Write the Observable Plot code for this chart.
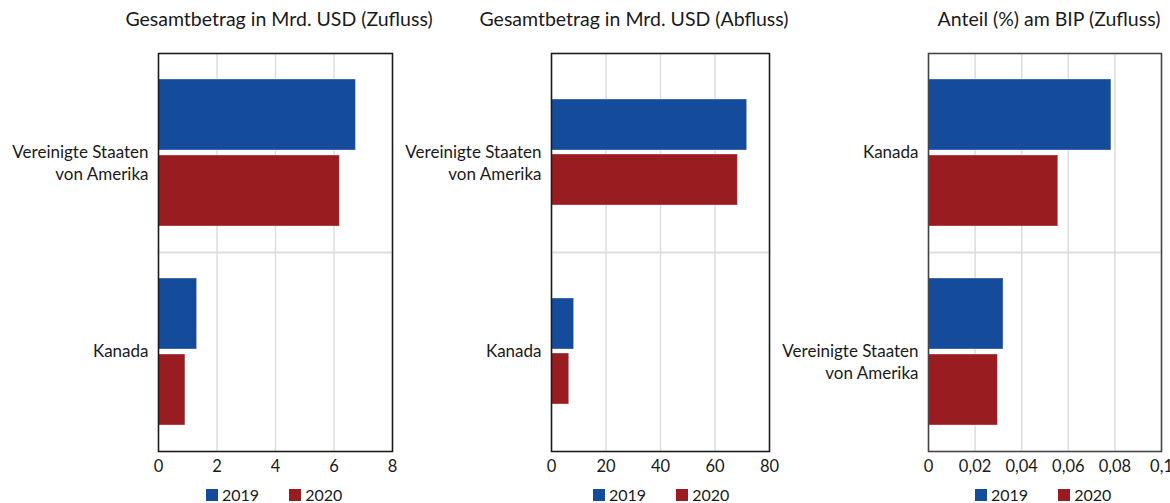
<!DOCTYPE html>
<html>
<head>
<meta charset="utf-8">
<script src="https://cdn.jsdelivr.net/npm/d3@7"></script>
<script src="https://cdn.jsdelivr.net/npm/@observablehq/plot@0.6"></script>
<style>
  html, body { margin: 0; padding: 0; background: #fff; }
  #chart { position: relative; width: 1170px; height: 503px; font-family: Lato, "Open Sans", sans-serif; color: #1a1a1a; overflow: hidden; }
  .panel { position: absolute; top: 0; }
  .panel svg { overflow: visible; }
  .title { position: absolute; top: 7px; font-size: 19.5px; line-height: 24px; white-space: nowrap; transform: translateX(-50%); color: #1a1a1a; }
  .legend { position: absolute; top: 487px; display: flex; align-items: center; font-size: 16px; line-height: 16px; color: #1a1a1a; }
  .legend .sw { width: 12px; height: 12px; margin-right: 4px; display: inline-block; }
  .legend .item { display: flex; align-items: center; margin-right: 30px; }
</style>
</head>
<body>
<div id="chart"></div>
<script>
// ---- data ----
const years = ["2019", "2020"];
const colors = ["#154b9b", "#981c20"];

const inflowCategories = ["Vereinigte Staaten von Amerika", "Kanada"];
const inflow2019 = [6.75, 1.32];
const inflow2020 = [6.20, 0.92];
const inflowTicks = [0, 2, 4, 6, 8];

const outflowCategories = ["Vereinigte Staaten von Amerika", "Kanada"];
const outflow2019 = [71.8, 8.3];
const outflow2020 = [68.4, 6.5];
const outflowTicks = [0, 20, 40, 60, 80];

const gdpCategories = ["Kanada", "Vereinigte Staaten von Amerika"];
const gdp2019 = [0.0785, 0.0322];
const gdp2020 = [0.0557, 0.0298];
const gdpTicks = [0, 0.02, 0.04, 0.06, 0.08, 0.1];

const titles = [
  "Gesamtbetrag in Mrd. USD (Zufluss)",
  "Gesamtbetrag in Mrd. USD (Abfluss)",
  "Anteil (%) am BIP (Zufluss)"
];
const categoryLabels = {
  "Vereinigte Staaten von Amerika": "Vereinigte Staaten\nvon Amerika",
  "Kanada": "Kanada"
};

const deFormat = n => String(n).replace(".", ",");
const chart = document.getElementById("chart");

function panel(cfg) {
  const rows = [];
  cfg.cats.forEach((c, i) => {
    rows.push({cat: c, year: years[0], value: cfg.v2019[i]});
    rows.push({cat: c, year: years[1], value: cfg.v2020[i]});
  });
  const plot = Plot.plot({
    width: cfg.width,
    height: 480,
    marginLeft: cfg.marginLeft,
    marginRight: cfg.marginRight,
    marginTop: 52,
    marginBottom: 29,
    style: {fontFamily: "Lato, 'Open Sans', sans-serif", fontSize: "16.5px", color: "#1a1a1a", overflow: "visible"},
    fy: {domain: cfg.cats, padding: 0, axis: null},
    y: {domain: years, axis: null, paddingInner: cfg.pi, paddingOuter: cfg.po},
    x: {domain: cfg.domain, ticks: cfg.ticks, tickFormat: deFormat, tickSize: 0, tickPadding: 9, label: null},
    color: {domain: years, range: colors},
    marks: [
      Plot.ruleX(cfg.ticks, {stroke: "#dcdcdc", strokeWidth: 1.5}),
      Plot.frame({stroke: "#dcdcdc", strokeWidth: 1.5}),
      Plot.barX(rows, {x: "value", y: "year", fy: "cat", fill: "year", stroke: "white", strokeOpacity: 0.35, strokeWidth: 1}),
      Plot.text(cfg.cats, {fy: d => d, text: d => categoryLabels[d], frameAnchor: "left", textAnchor: "end", lineAnchor: "top", dx: -10, dy: -11, lineHeight: 1.3, fontSize: 17, fill: "#1a1a1a"}),
      Plot.frame({facet: "super", stroke: cfg.frameColor, strokeWidth: 1.5})
    ]
  });
  const div = document.createElement("div");
  div.className = "panel";
  div.style.left = cfg.left + "px";
  div.appendChild(plot);
  chart.appendChild(div);

  const t = document.createElement("div");
  t.className = "title";
  t.style.left = cfg.titleCenter + "px";
  t.textContent = cfg.title;
  chart.appendChild(t);

  const lg = document.createElement("div");
  lg.className = "legend";
  lg.style.left = cfg.legendLeft + "px";
  years.forEach((y, i) => {
    const it = document.createElement("span");
    it.className = "item";
    const sw = document.createElement("span");
    sw.className = "sw";
    sw.style.background = colors[i];
    it.appendChild(sw);
    it.appendChild(document.createTextNode(y));
    lg.appendChild(it);
  });
  chart.appendChild(lg);
}

panel({left: 0, width: 400, marginLeft: 158, marginRight: 8, cats: inflowCategories, v2019: inflow2019, v2020: inflow2020,
  domain: [0, 8], ticks: inflowTicks, pi: 0.065, po: 0.328, title: titles[0], titleCenter: 279, legendLeft: 206, frameColor: "#1a1a1a"});
panel({left: 400, width: 370, marginLeft: 151, marginRight: 1, cats: outflowCategories, v2019: outflow2019, v2020: outflow2020,
  domain: [0, 80], ticks: outflowTicks, pi: 0.071, po: 0.817, title: titles[1], titleCenter: 634, legendLeft: 593, frameColor: "#1a1a1a"});
panel({left: 770, width: 400, marginLeft: 158, marginRight: 9, cats: gdpCategories, v2019: gdp2019, v2020: gdp2020,
  domain: [0, 0.1], ticks: gdpTicks, pi: 0.065, po: 0.328, title: titles[2], titleCenter: 1049, legendLeft: 975, frameColor: "#444"});
</script>
</body>
</html>
